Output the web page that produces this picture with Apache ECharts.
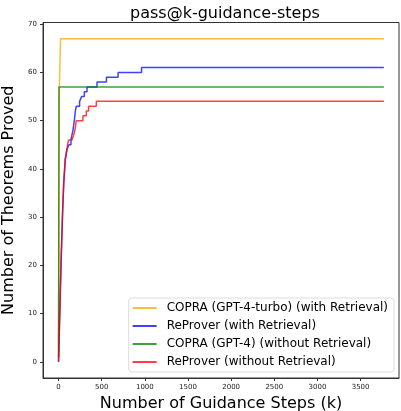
<!DOCTYPE html>
<html>
<head>
<meta charset="utf-8">
<script src="https://cdn.jsdelivr.net/npm/echarts@6/dist/echarts.min.js"></script>
<style>
  html, body { margin: 0; padding: 0; background: #fff; }
  #chart { width: 401px; height: 411px; }
</style>
</head>
<body>
<div id="chart"></div>
<script>
// values (k = guidance steps, value = theorems proved)
var seriesNames = [
  'COPRA (GPT-4-turbo) (with Retrieval)',
  'ReProver (with Retrieval)',
  'COPRA (GPT-4) (without Retrieval)',
  'ReProver (without Retrieval)'
];
var orangeK = [0, 10, 23, 3770];
var orangeV = [1, 57, 67, 67];
var blueK = [0, 10, 20, 30, 47, 60, 78, 97, 120, 144, 155, 167, 175, 183, 195, 206, 244, 267, 299, 330, 446, 555, 690, 962, 3770];
var blueV = [0, 7, 14, 21, 31, 37, 42, 44, 45, 46, 47, 48, 49, 50, 52, 53, 54, 55, 56, 57, 58, 59, 60, 61, 61];
var greenK = [0, 5, 3770];
var greenV = [1, 57, 57];
var redK = [0, 10, 20, 30, 47, 60, 78, 97, 105, 116, 156, 175, 190, 206, 283, 322, 349, 438, 3770];
var redV = [0, 7, 14, 21, 31, 37, 42, 44, 45, 46, 46, 47, 48, 50, 51, 52, 53, 54, 54];
var xTicks = [0, 500, 1000, 1500, 2000, 2500, 3000, 3500];
var yTicks = [0, 10, 20, 30, 40, 50, 60, 70];

function pairs(ks, vs) {
  var out = [];
  for (var i = 0; i < ks.length; i++) out.push([ks[i], vs[i]]);
  return out;
}

var font = 'DejaVu Sans';
var colors = ['#ffa500', '#0000ff', '#008000', '#ff0000'];

function mkSeries(i, data, step) {
  return {
    name: seriesNames[i],
    type: 'line',
    data: data,
    step: step,
    symbol: 'none',
    animation: false,
    lineStyle: { color: colors[i], width: 1.5, opacity: 0.75 },
    itemStyle: { color: colors[i], opacity: 0.75 }
  };
}

var myChart = echarts.init(document.getElementById('chart'));

var option = {
  backgroundColor: '#fff',
  title: {
    text: 'pass@k-guidance-steps',
    left: 125,
    top: 1,
    textStyle: { fontFamily: font, fontSize: 16, fontWeight: 'normal', color: '#000' }
  },
  grid: {
    left: 43, right: 2, top: 22.5, bottom: 33,
    outerBoundsMode: 'none',
    containLabel: false,
    show: true, borderColor: '#333', borderWidth: 1
  },
  legend: {
    orient: 'vertical',
    right: 7,
    bottom: 39,
    padding: [3, 6, 3, 4],
    itemGap: 4,
    itemWidth: 24,
    itemHeight: 2,
    icon: 'rect',
    backgroundColor: 'rgba(255,255,255,0.8)',
    borderColor: '#ddd',
    borderWidth: 1,
    borderRadius: 3,
    textStyle: { fontFamily: font, fontSize: 12, color: '#000', lineHeight: 14, padding: [0, 0, 0, 5] },
    data: seriesNames
  },
  xAxis: {
    type: 'value',
    min: -180,
    max: 3945,
    name: 'Number of Guidance Steps (k)',
    nameLocation: 'middle',
    nameGap: 14,
    nameTextStyle: { fontFamily: font, fontSize: 16, color: '#000', verticalAlign: 'top' },
    splitLine: { show: false },
    axisLine: { show: true, onZero: false, lineStyle: { color: '#333' } },
    axisTick: { show: true, length: 3, lineStyle: { color: '#333' }, customValues: xTicks },
    axisLabel: {
      fontFamily: font, fontSize: 7, color: '#222', margin: 6, customValues: xTicks,
      formatter: function (v) { return String(v); }
    }
  },
  yAxis: {
    type: 'value',
    min: -3.35,
    max: 70.35,
    name: 'Number of Theorems Proved',
    nameLocation: 'middle',
    nameGap: 15,
    nameTextStyle: { fontFamily: font, fontSize: 16, color: '#000' },
    splitLine: { show: false },
    axisLine: { show: true, onZero: false, lineStyle: { color: '#333' } },
    axisTick: { show: true, length: 3, lineStyle: { color: '#333' }, customValues: yTicks },
    axisLabel: {
      fontFamily: font, fontSize: 7, color: '#222', margin: 6, customValues: yTicks,
      formatter: function (v) { return String(v); }
    }
  },
  series: [
    mkSeries(0, pairs(orangeK, orangeV), false),
    mkSeries(1, pairs(blueK, blueV), 'end'),
    mkSeries(2, pairs(greenK, greenV), false),
    mkSeries(3, pairs(redK, redV), 'end')
  ]
};

myChart.setOption(option);
</script>
</body>
</html>
